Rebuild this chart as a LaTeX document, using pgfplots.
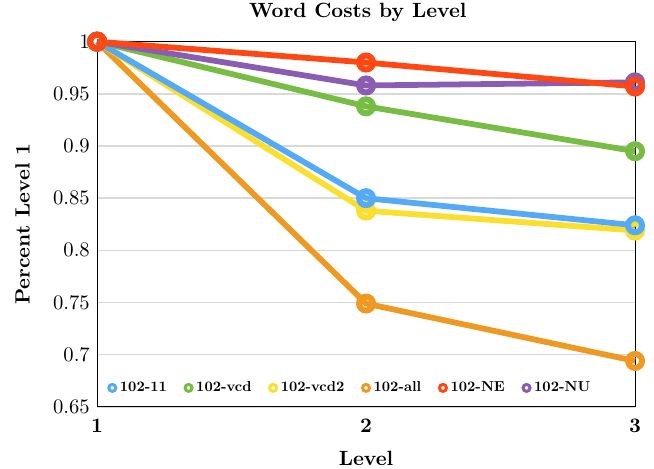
\documentclass[border=0pt]{standalone}
\usepackage{pgfplots}
\pgfplotsset{compat=1.18}
\definecolor{cblue}{HTML}{55AAF5}
\definecolor{cgreen}{HTML}{77BD43}
\definecolor{cyellow}{HTML}{FBDF2E}
\definecolor{corange}{HTML}{EE9922}
\definecolor{cred}{HTML}{FF4713}
\definecolor{cpurple}{HTML}{8A5DB3}
\newcommand{\lgt}[1]{\scalebox{0.7}{\fontsize{10}{12}\selectfont\bfseries #1}}
\begin{document}
\begin{tikzpicture}
\begin{axis}[
  scale only axis,
  width=261pt, height=177.2pt,
  xmin=1, xmax=3, ymin=0.65, ymax=1,
  xtick={1,2,3},
  ytick={0.65,0.7,0.75,0.8,0.85,0.9,0.95,1},
  yticklabels={0.65,0.7,0.75,0.8,0.85,0.9,0.95,1},
  ymajorgrids,
  grid style={gray!30, line width=0.7pt},
  tick style={draw=none},
  tick label style={font=\boldmath},
  xticklabel style={yshift=-2.4pt},
  title={\bfseries Word Costs by Level},
  title style={xshift=-4pt},
  xlabel={\bfseries Level},
  ylabel={\bfseries Percent Level 1},
  xlabel style={yshift=-2.2pt},
  ylabel style={yshift=4.5pt},
  clip=false,
  axis line style={line width=0.5pt},
  every axis plot/.append style={line width=2.8pt, mark=o, mark size=3.4pt, mark options={fill=white, line width=2.9pt}},
  legend style={at={(0.5,0.052)}, xshift=-7pt, anchor=center, draw=none, fill=none, font=\fontsize{7}{8}\selectfont, /tikz/every even column/.append style={column sep=6.8pt}},
  legend columns=6,
  legend image code/.code={\draw[mark=o, mark size=1.7pt, line width=1.45pt, mark options={fill=white, line width=1.45pt}] plot coordinates {(0.15cm,0cm)};},
]
\addplot[color=corange, forget plot] coordinates {(1,1) (2,0.749) (3,0.694)};
\addplot[color=cyellow, forget plot] coordinates {(1,1) (2,0.838) (3,0.819)};
\addplot[color=cblue, forget plot] coordinates {(1,1) (2,0.850) (3,0.824)};
\addplot[color=cgreen, forget plot] coordinates {(1,1) (2,0.938) (3,0.895)};
\addplot[color=cpurple, forget plot] coordinates {(1,1) (2,0.958) (3,0.961)};
\addplot[color=cred, forget plot] coordinates {(1,1) (2,0.980) (3,0.957)};
\addlegendimage{color=cblue}
\addlegendentry{\lgt{102-11}}
\addlegendimage{color=cgreen}
\addlegendentry{\lgt{102-vcd}}
\addlegendimage{color=cyellow}
\addlegendentry{\lgt{102-vcd2}}
\addlegendimage{color=corange}
\addlegendentry{\lgt{102-all}}
\addlegendimage{color=cred}
\addlegendentry{\lgt{102-NE}}
\addlegendimage{color=cpurple}
\addlegendentry{\lgt{102-NU}}
\end{axis}
\pgfresetboundingbox
\path[use as bounding box] ([xshift=-47.1pt,yshift=-30.1pt]current axis.south west) rectangle ([xshift=9.2pt,yshift=20.2pt]current axis.north east);
\end{tikzpicture}
\end{document}
